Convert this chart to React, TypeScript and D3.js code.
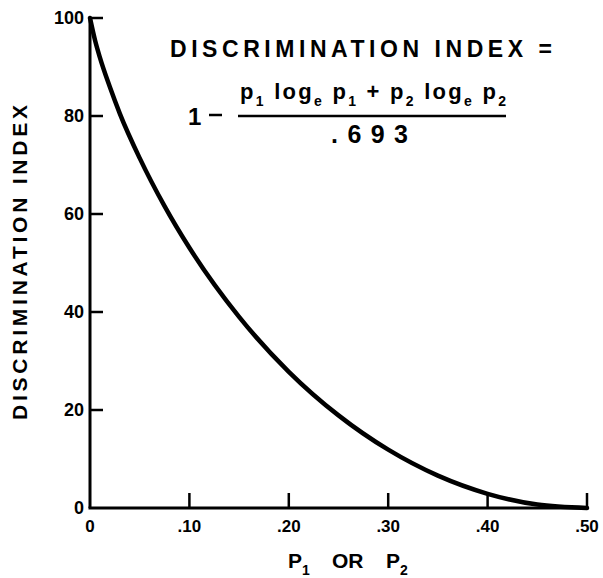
import React from "react";
import * as d3 from "d3";

const pValues = [0, 0.005, 0.01, 0.02, 0.03, 0.05, 0.075, 0.1, 0.15, 0.2, 0.25, 0.3, 0.35, 0.4, 0.45, 0.5];
const indexValues = [100, 95.5, 91.9, 85.9, 80.5, 71.4, 61.6, 53.1, 39.0, 27.8, 18.9, 11.9, 6.6, 2.9, 0.7, 0];
const xTicks = [0, 0.1, 0.2, 0.3, 0.4, 0.5];
const xTickLabels = ["0", ".10", ".20", ".30", ".40", ".50"];
const yTicks = [0, 20, 40, 60, 80, 100];

const W = 603;
const H = 578;
const FONT = "'Liberation Sans', Arial, sans-serif";

export default function App() {
  const x = d3.scaleLinear().domain([0, 0.5]).range([90, 587]);
  const y = d3.scaleLinear().domain([0, 100]).range([508, 18]);
  const pts = pValues.map((p, i) => [p, indexValues[i]] as [number, number]);
  const line = d3
    .line<[number, number]>()
    .x((d) => x(d[0]))
    .y((d) => y(d[1]))
    .curve(d3.curveMonotoneX);

  const sub = 14;
  return (
    <svg
      width={W}
      height={H}
      viewBox={`0 0 ${W} ${H}`}
      style={{ position: "absolute", left: 0, top: 0, background: "#fff" }}
      fontFamily={FONT}
      fontWeight="bold"
    >
      {/* axes */}
      <line x1={x(0)} y1={y(100)} x2={x(0)} y2={y(0)} stroke="#000" strokeWidth={3} />
      <line x1={x(0) - 1.5} y1={y(0)} x2={x(0.5)} y2={y(0)} stroke="#000" strokeWidth={3} />
      {yTicks.map((t) => (
        <g key={"y" + t}>
          {t > 0 && (
            <line x1={x(0)} y1={y(t)} x2={x(0) + 13} y2={y(t)} stroke="#000" strokeWidth={2.5} />
          )}
          <text x={x(0) - 6} y={y(t)} dy="0.36em" textAnchor="end" fontSize={18}>
            {t}
          </text>
        </g>
      ))}
      {xTicks.map((t, i) => (
        <g key={"x" + t}>
          {t > 0 && (
            <line x1={x(t)} y1={y(0)} x2={x(t)} y2={y(0) - 15} stroke="#000" strokeWidth={2.5} />
          )}
          <text x={x(t)} y={532} textAnchor="middle" fontSize={17}>
            {xTickLabels[i]}
          </text>
        </g>
      ))}
      {/* curve */}
      <path d={line(pts) || ""} fill="none" stroke="#000" strokeWidth={4.5} strokeLinecap="round" />

      {/* y axis title */}
      <text
        transform={`translate(27,262.5) rotate(-90)`}
        textAnchor="middle"
        fontSize={21}
        textLength={315}
        lengthAdjust="spacing"
      >
        DISCRIMINATION INDEX
      </text>

      {/* x axis title */}
      <text x={288} y={568} fontSize={21}>
        P<tspan fontSize={sub} dy={7}>1</tspan>
      </text>
      <text x={332} y={568} fontSize={21}>
        OR
      </text>
      <text x={386} y={568} fontSize={21}>
        P<tspan fontSize={sub} dy={7}>2</tspan>
      </text>

      {/* formula */}
      <text x={170} y={57} fontSize={23} textLength={382} lengthAdjust="spacing">
        DISCRIMINATION INDEX =
      </text>
      <text x={188} y={125} fontSize={24}>
        1
      </text>
      <line x1={209} y1={115} x2={222} y2={115} stroke="#000" strokeWidth={2.5} />
      <line x1={238} y1={116} x2={506} y2={116} stroke="#000" strokeWidth={2.5} />
      <text x={240} y={99} fontSize={22} textLength={266} lengthAdjust="spacing">
        p<tspan fontSize={sub} dy={7}>1</tspan>
        <tspan dy={-7}> log</tspan>
        <tspan fontSize={sub} dy={7}>e</tspan>
        <tspan dy={-7}> p</tspan>
        <tspan fontSize={sub} dy={7}>1</tspan>
        <tspan dy={-7}> + p</tspan>
        <tspan fontSize={sub} dy={7}>2</tspan>
        <tspan dy={-7}> log</tspan>
        <tspan fontSize={sub} dy={7}>e</tspan>
        <tspan dy={-7}> p</tspan>
        <tspan fontSize={sub} dy={7}>2</tspan>
      </text>
      <text x={331} y={143} fontSize={25} textLength={77} lengthAdjust="spacing">
        .693
      </text>
    </svg>
  );
}
